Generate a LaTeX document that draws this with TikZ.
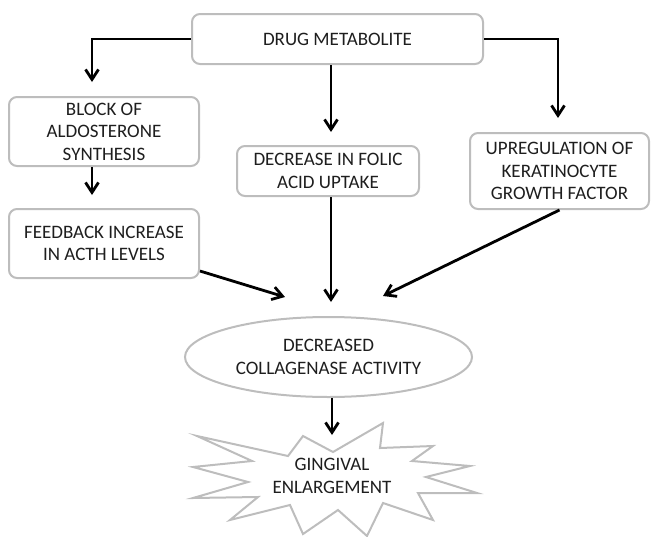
\documentclass[tikz,border=0pt]{standalone}
\usepackage{fontspec}
\setmainfont{Carlito}
\usetikzlibrary{arrows.meta,shapes.geometric,calc}
\definecolor{boxgray}{HTML}{BDBDBD}
\definecolor{txtgray}{HTML}{1E1E1E}
\newcommand{\diagfont}{\fontsize{19}{22.5}\selectfont}
\begin{document}
\begin{tikzpicture}[x=1pt,y=-1pt,
  box/.style={draw=boxgray, line width=2pt, rounded corners=8pt, fill=white,
    align=center, inner sep=0pt, font=\diagfont, text=txtgray},
  ellbox/.style={draw=boxgray, line width=2pt, ellipse, fill=white,
    align=center, inner sep=0pt, font=\diagfont, text=txtgray},
  txt/.style={align=center, inner sep=0pt, font=\diagfont, text=txtgray},
  starline/.style={draw=boxgray, line width=2pt, line join=miter, fill=white},
  arr/.style={draw=black, line width=2.8pt, -{Straight Barb[length=10pt,width=13pt]}}
]
\useasboundingbox (0,0) rectangle (651,536);

% nodes
\node[box, minimum width=291pt, minimum height=50pt] (drug) at (337.5,39) {DRUG METABOLITE};
\node[box, minimum width=190pt, minimum height=69pt] (block) at (104,131.5) {BLOCK OF\\ALDOSTERONE\\SYNTHESIS};
\node[box, minimum width=182pt, minimum height=50pt] (folic) at (328,171) {DECREASE IN FOLIC\\ACID UPTAKE};
\node[box, minimum width=179pt, minimum height=76pt] (upreg) at (559.5,171) {UPREGULATION OF\\KERATINOCYTE\\GROWTH FACTOR};
\node[box, minimum width=190pt, minimum height=69pt] (feedback) at (104,243.5) {FEEDBACK INCREASE\\IN ACTH LEVELS};
\node[ellbox, minimum width=287pt, minimum height=80pt] (coll) at (328.5,357) {DECREASED\\COLLAGENASE ACTIVITY};

% starburst
\draw[starline] (303,436) -- (333,452) -- (383,423) -- (380,448) -- (433,446)
  -- (412,461) -- (470,466) -- (426,477) -- (477,493) -- (418,493) -- (433,520)
  -- (383,503) -- (367,536) -- (338,510) -- (303,534) -- (290,505) -- (230,520)
  -- (258,497) -- (193,498) -- (248,482) -- (193,467) -- (252,461) -- (197,436)
  -- (288,456) -- cycle;
\node[txt] (ging) at (332,476) {GINGIVAL\\ENLARGEMENT};

% arrow tips
\coordinate (lefttip) at (92,82);
\coordinate (righttip) at (558,118);
\coordinate (midtip) at (331,132);
\coordinate (bltip) at (92,195);
\coordinate (foltip) at (331,302);
\coordinate (fbtip) at (285,297);
\coordinate (uptip) at (383,296);
\coordinate (startip) at (332,435);

% connectors
\draw[arr] (drug.west) -| (lefttip);
\draw[arr] (drug.east) -| (righttip);
\draw[arr] (drug.south -| midtip) -- (midtip);
\draw[arr] (block.south -| bltip) -- (bltip);
\draw[arr] (folic.south -| foltip) -- (foltip);
\draw[arr] (feedback.-16) -- (fbtip);
\draw[arr] (upreg.south) -- (uptip);
\draw[arr] (coll.south -| startip) -- (startip);
\end{tikzpicture}
\end{document}
